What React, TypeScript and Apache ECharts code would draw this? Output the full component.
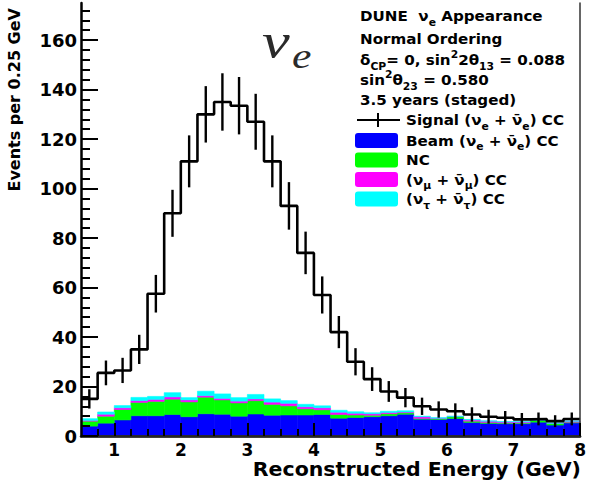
import React, { useEffect, useRef } from 'react';
import * as echarts from 'echarts';

// Bin edges (Reconstructed energy, GeV), 0.25 GeV bins
const binEdges = [
  0.5, 0.75, 1.0, 1.25, 1.5, 1.75, 2.0, 2.25, 2.5, 2.75, 3.0, 3.25, 3.5, 3.75, 4.0, 4.25,
  4.5, 4.75, 5.0, 5.25, 5.5, 5.75, 6.0, 6.25, 6.5, 6.75, 7.0, 7.25, 7.5, 7.75, 8.0,
];

// Signal (nu_e + nu_e-bar) CC, events per bin
const signal = [
  15, 25.5, 26.5, 35, 57.5, 90, 111, 130, 135, 133.5, 127, 111, 93, 74, 57, 42, 30, 23, 18,
  15.5, 12, 10.7, 10, 8.7, 7.8, 7.4, 6.7, 6.9, 6, 6.9,
];
// Statistical error bars (half-lengths)
const signalErr = [
  3.9, 5.0, 5.1, 5.9, 7.6, 9.5, 10.5, 11.4, 11.6, 11.6, 11.3, 10.5, 9.6, 8.6, 7.5, 6.5, 5.5,
  4.8, 4.2, 3.9, 3.5, 3.3, 3.2, 2.9, 2.8, 2.7, 2.6, 2.6, 2.4, 2.6,
];

// Stacked backgrounds (bottom to top)
const beam = [
  4, 5.2, 6.5, 8.2, 8.2, 8.7, 7.8, 9, 8.8, 8, 8.9, 8.4, 8.5, 8.5, 8.7, 7.2, 7.5, 7.8, 8.2, 8.8,
  6.8, 6.7, 7.1, 5.5, 5.1, 5, 5, 5.6, 4.4, 5.3,
];
const nc = [
  2, 2.8, 4.2, 5.4, 5.8, 6.2, 6, 6.7, 5.8, 5.4, 5.4, 4.4, 3.7, 2.5, 1.9, 1.5, 1, 0.6, 0.8, 0.6,
  0.3, 0.3, 0.7, 0.5, 0.4, 0.3, 0.3, 0.7, 0.7, 0.3,
];
const numuCC = [
  0.3, 0.8, 0.7, 0.7, 0.8, 0.9, 0.8, 0.6, 0.6, 0.7, 0.7, 0.9, 1.0, 0.8, 0.8, 0.9, 0.7, 0.6, 0.5,
  0.3, 0.7, 0.2, 0.1, 0.5, 0.5, 0.4, 0.4, 0.1, 0.1, 0.4,
];
const nutauCC = [
  0.7, 0.9, 0.9, 1.3, 1.2, 1.7, 0.9, 1.8, 1.8, 1.4, 1.8, 1.3, 1.1, 1.0, 0.8, 0.8, 0.6, 0.4, 0.5,
  0.5, 0.2, 0.2, 0.1, 0.2, 0.1, 0.1, 0.1, 0.1, 0.1, 0.1,
];

// Axis ticks / labels
const xMajorTicks = [1, 2, 3, 4, 5, 6, 7, 8];
const xMinorTicks = [
  0.75, 1.25, 1.5, 1.75, 2.25, 2.5, 2.75, 3.25, 3.5, 3.75, 4.25, 4.5, 4.75, 5.25, 5.5, 5.75,
  6.25, 6.5, 6.75, 7.25, 7.5, 7.75,
];
const yMajorTicks = [0, 20, 40, 60, 80, 100, 120, 140, 160];
const yMinorTicks = [
  4, 8, 12, 16, 24, 28, 32, 36, 44, 48, 52, 56, 64, 68, 72, 76, 84, 88, 92, 96, 104, 108, 112,
  116, 124, 128, 132, 136, 144, 148, 152, 156, 164, 168, 172,
];

const FONT = 'DejaVu Sans';
const NU = '\u03BD';
const NUBAR = '\u03BD\u0304';

const layers = [
  { name: 'Beam (νe + ν̄e) CC', values: beam, color: '#0000ff' },
  { name: 'NC', values: nc, color: '#00ff00' },
  { name: '(νμ + ν̄μ) CC', values: numuCC, color: '#ff00ff' },
  { name: '(ντ + ν̄τ) CC', values: nutauCC, color: '#00ffff' },
];

export default function App() {
  const ref = useRef<HTMLDivElement>(null);

  useEffect(() => {
    if (!ref.current) return;
    const chart = echarts.init(ref.current, undefined, { renderer: 'svg' });

    const cum = new Array(signal.length).fill(0);
    const layerSeries = layers.map((layer) => {
      const data = layer.values.map((v, i) => {
        const base = cum[i];
        cum[i] = base + v;
        return [binEdges[i], binEdges[i + 1], base, base + v];
      });
      return {
        type: 'custom',
        name: layer.name,
        xAxisIndex: 0,
        yAxisIndex: 0,
        encode: { x: [0, 1], y: [2, 3] },
        data,
        z: 2,
        renderItem: (params: any, api: any) => {
          const p0 = api.coord([api.value(0), api.value(3)]);
          const p1 = api.coord([api.value(1), api.value(2)]);
          return {
            type: 'rect',
            shape: { x: p0[0], y: p0[1], width: p1[0] - p0[0], height: p1[1] - p0[1] },
            style: { fill: layer.color, stroke: layer.color, lineWidth: 0.6 },
          };
        },
      };
    });

    const stepData = signal
      .map((v, i) => [binEdges[i], v])
      .concat([[binEdges[signal.length], signal[signal.length - 1]]]);

    const errData = signal.map((v, i) => [
      (binEdges[i] + binEdges[i + 1]) / 2,
      v - signalErr[i],
      v + signalErr[i],
    ]);

    const sub = { fontSize: 10, fontFamily: FONT, fontWeight: 'bold', verticalAlign: 'bottom', fill: '#000' };
    const sup = { fontSize: 10, fontFamily: FONT, fontWeight: 'bold', verticalAlign: 'top', fill: '#000' };
    const txt = (text: string, x: number, y: number) => ({
      type: 'text',
      x,
      y,
      scaleX: 1.08,
      z: 20,
      style: {
        text,
        fontFamily: FONT,
        fontWeight: 'bold',
        fontSize: 14,
        lineHeight: 22,
        fill: '#000',
        align: 'left',
        verticalAlign: 'middle',
        rich: { sub, sup },
      },
    });

    const boxY = [140.5, 160, 179.5, 199];
    const legendTexts = [
      `Beam (${NU}{sub|e} + ${NUBAR}{sub|e}) CC`,
      'NC',
      `(${NU}{sub|μ} + ${NUBAR}{sub|μ}) CC`,
      `(${NU}{sub|τ} + ${NUBAR}{sub|τ}) CC`,
    ];

    const graphics: any[] = [
      txt(`DUNE  ${NU}{sub|e} Appearance`, 360, 16),
      txt('Normal Ordering', 360, 39),
      txt('δ{sub|CP}= 0, sin{sup|2}2θ{sub|13} = 0.088', 360, 60),
      txt('sin{sup|2}θ{sub|23} = 0.580', 360, 80),
      txt('3.5 years (staged)', 360, 100),
      txt(`Signal (${NU}{sub|e} + ${NUBAR}{sub|e}) CC`, 406, 120),
      {
        type: 'line',
        z: 20,
        shape: { x1: 357, y1: 120, x2: 400, y2: 120 },
        style: { stroke: '#000', lineWidth: 2 },
      },
      {
        type: 'line',
        z: 20,
        shape: { x1: 378, y1: 113, x2: 378, y2: 127 },
        style: { stroke: '#000', lineWidth: 2 },
      },
      ...layers.map((layer, i) => ({
        type: 'rect',
        z: 20,
        shape: { x: 355, y: boxY[i] - 7.5, width: 43, height: 15, r: 3 },
        style: { fill: layer.color },
      })),
      ...legendTexts.map((t, i) => txt(t, 406, boxY[i])),
      {
        type: 'text',
        x: 262,
        y: 41,
        scaleX: 1.25,
        z: 20,
        style: {
          text: NU,
          fontFamily: 'Liberation Serif',
          fontStyle: 'italic',
          fontSize: 50,
          fill: '#2a2a2a',
          align: 'left',
          verticalAlign: 'middle',
        },
      },
      {
        type: 'text',
        x: 292,
        y: 57,
        scaleX: 1.25,
        z: 20,
        style: {
          text: 'e',
          fontFamily: 'Liberation Serif',
          fontStyle: 'italic',
          fontSize: 35,
          fill: '#2a2a2a',
          align: 'left',
          verticalAlign: 'middle',
        },
      },
      {
        type: 'text',
        x: 581,
        y: 470,
        scaleX: 1.08,
        z: 20,
        style: {
          text: 'Reconstructed Energy (GeV)',
          fontFamily: FONT,
          fontWeight: 'bold',
          fontSize: 19,
          lineHeight: 19,
          fill: '#000',
          align: 'right',
          verticalAlign: 'middle',
        },
      },
      {
        type: 'text',
        x: 14,
        y: 8,
        rotation: Math.PI / 2,
        z: 20,
        style: {
          text: 'Events per 0.25 GeV',
          fontFamily: FONT,
          fontWeight: 'bold',
          fontSize: 16,
          fill: '#000',
          align: 'right',
          verticalAlign: 'middle',
        },
      },
    ];

    const labelStyle = { fontFamily: FONT, fontWeight: 'bold', fontSize: 17, lineHeight: 17, color: '#000' };

    chart.setOption({
      animation: false,
      backgroundColor: '#fff',
      grid: { left: 81, right: 6, top: 3, bottom: 46, containLabel: false },
      xAxis: [
        {
          type: 'value',
          min: 0.5,
          max: 8,
          position: 'bottom',
          z: 10,
          axisLine: { show: true, lineStyle: { color: '#000', width: 2.5 } },
          axisTick: {
            show: true,
            inside: true,
            length: 13,
            customValues: xMajorTicks,
            lineStyle: { color: '#000', width: 2 },
          },
          axisLabel: { ...labelStyle, customValues: xMajorTicks, margin: 5 },
          splitLine: { show: false },
        },
        {
          type: 'value',
          min: 0.5,
          max: 8,
          position: 'bottom',
          z: 10,
          axisLine: { show: false },
          axisTick: {
            show: true,
            inside: true,
            length: 7,
            customValues: xMinorTicks,
            lineStyle: { color: '#000', width: 2 },
          },
          axisLabel: { show: false },
          splitLine: { show: false },
        },
        {
          type: 'value',
          min: 0.5,
          max: 8,
          position: 'top',
          z: 10,
          axisLine: { show: true, lineStyle: { color: '#333', width: 1.5 } },
          axisTick: { show: false },
          axisLabel: { show: false },
          splitLine: { show: false },
        },
      ],
      yAxis: [
        {
          type: 'value',
          min: 0,
          max: 175,
          position: 'left',
          z: 10,
          axisLine: { show: true, lineStyle: { color: '#000', width: 2.5 } },
          axisTick: {
            show: true,
            inside: true,
            length: 17,
            customValues: yMajorTicks,
            lineStyle: { color: '#000', width: 2 },
          },
          axisLabel: { ...labelStyle, fontSize: 18, lineHeight: 18, customValues: yMajorTicks, margin: 4 },
          splitLine: { show: false },
        },
        {
          type: 'value',
          min: 0,
          max: 175,
          position: 'left',
          z: 10,
          axisLine: { show: false },
          axisTick: {
            show: true,
            inside: true,
            length: 9,
            customValues: yMinorTicks,
            lineStyle: { color: '#000', width: 2 },
          },
          axisLabel: { show: false },
          splitLine: { show: false },
        },
        {
          type: 'value',
          min: 0,
          max: 175,
          position: 'right',
          z: 10,
          axisLine: { show: true, lineStyle: { color: '#333', width: 1.5 } },
          axisTick: { show: false },
          axisLabel: { show: false },
          splitLine: { show: false },
        },
      ],
      series: [
        ...layerSeries,
        {
          type: 'line',
          name: 'Signal (νe + ν̄e) CC',
          xAxisIndex: 0,
          yAxisIndex: 0,
          data: stepData,
          step: 'end',
          symbol: 'none',
          z: 5,
          lineStyle: { color: '#000', width: 2.6 },
        },
        {
          type: 'custom',
          name: 'Signal errors',
          xAxisIndex: 0,
          yAxisIndex: 0,
          encode: { x: 0, y: [1, 2] },
          data: errData,
          z: 6,
          renderItem: (params: any, api: any) => {
            const top = api.coord([api.value(0), api.value(2)]);
            const bot = api.coord([api.value(0), api.value(1)]);
            return {
              type: 'line',
              shape: { x1: top[0], y1: top[1], x2: bot[0], y2: bot[1] },
              style: { stroke: '#000', lineWidth: 2.4 },
            };
          },
        },
      ],
      graphic: graphics,
    });

    return () => chart.dispose();
  }, []);

  return (
    <div
      ref={ref}
      style={{ position: 'absolute', left: 0, top: 0, width: 589, height: 482, background: '#fff' }}
    />
  );
}
